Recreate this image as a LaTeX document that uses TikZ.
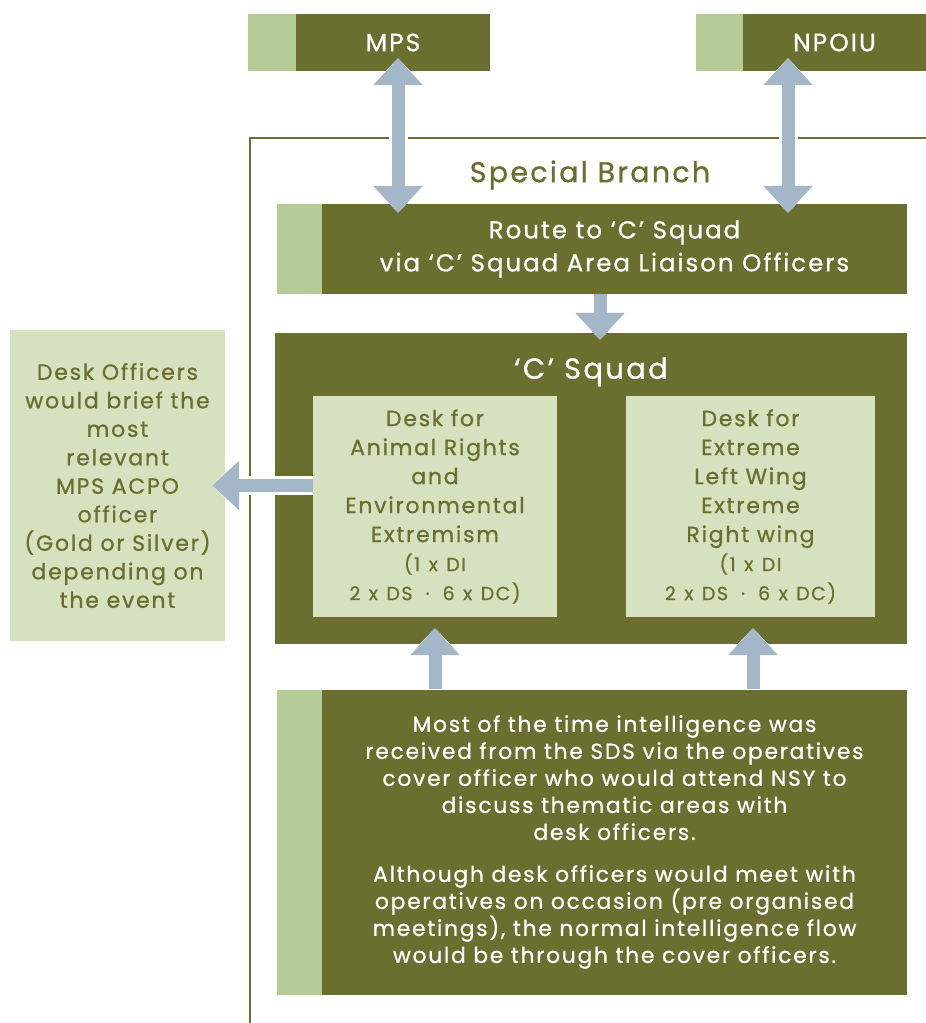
\documentclass[tikz,border=0pt]{standalone}
\usepackage{fontspec}
\setmainfont{Poppins}[LetterSpace=8,FakeBold=0.8]
\usetikzlibrary{arrows.meta,positioning,calc}

\begin{document}
\begin{tikzpicture}[x=1pt,y=1pt]
        % Colors
        \definecolor{olive}{RGB}{106,110,47}
        \definecolor{stripcolor}{RGB}{181,204,150}
        \definecolor{palecolor}{RGB}{213,225,191}
        \definecolor{flowcolor}{RGB}{163,183,201}
        % Styles
        \tikzstyle{darkbox}=[fill=olive,text=white,inner sep=0pt,align=center]
        \tikzstyle{tab}=[fill=stripcolor,inner sep=0pt]
        \tikzstyle{palebox}=[fill=palecolor,text=olive,inner sep=0pt,align=center]
        \tikzstyle{flow}=[draw=flowcolor,line width=13pt,>={Triangle[length=27pt,width=48pt]},
            preaction={draw=white,line width=19pt,>={Triangle[length=31pt,width=58pt]}}]
        \tikzstyle{desk text}=[font=\fontsize{22}{29}\selectfont]
        \newcommand{\smallline}[1]{{\fontsize{19}{27}\selectfont\spaceskip=8.5pt #1}}
        \useasboundingbox (0,0) rectangle (926,-1023);
        %The graphic
        \draw[olive,line width=1.2pt] (250,-1023) -- (250,-138) -- (926,-138);
        \node[olive,font=\fontsize{28.5}{32}\selectfont] (branch) at (590,-175) {Special Branch};
        % outside units
        \node[darkbox,minimum width=194pt,minimum height=57pt,font=\fontsize{25}{28}\selectfont] (mps) at (393,-42.5) {MPS};
        \node[tab,left=0pt of mps,minimum width=48pt,minimum height=57pt] (mpstab) {};
        \node[darkbox,minimum width=183pt,minimum height=57pt,font=\fontsize{25}{28}\selectfont] (npoiu) at (834.5,-42.5) {NPOIU};
        \node[tab,left=0pt of npoiu,minimum width=47pt,minimum height=57pt] (npoiutab) {};
        % route
        \node[darkbox,minimum width=585pt,minimum height=90pt,font=\fontsize{24.5}{33}\selectfont] (route) at (614.5,-249)
            {Route to ‘C’ Squad\\via ‘C’ Squad Area Liaison Officers};
        \node[tab,left=0pt of route,minimum width=45pt,minimum height=90pt] (routetab) {};
        % C squad and desks
        \node[darkbox,minimum width=632pt,minimum height=311pt] (csquad) at (591,-488.5) {};
        \node[text=white,font=\fontsize{29}{32}\selectfont] (ctitle) at ([yshift=-39pt]csquad.north) {‘C’ Squad};
        \node[palebox,desk text,minimum width=244pt,minimum height=221pt] (deskar) at (435,-506.5)
            {Desk for\\Animal Rights\\and\\Environmental\\Extremism\\\smallline{(1 x DI}\\\smallline{2 x DS\hspace{13pt}·\hspace{13pt}6 x DC)}};
        \node[palebox,desk text,minimum width=249pt,minimum height=221pt] (deskex) at (750.5,-506.5)
            {Desk for\\Extreme\\Left Wing\\Extreme\\Right wing\\\smallline{(1 x DI}\\\smallline{2 x DS\hspace{13pt}·\hspace{13pt}6 x DC)}};
        \node[palebox,font=\fontsize{22}{28.5}\selectfont,minimum width=215pt,minimum height=311pt] (brief) at (117.5,-485.5)
            {Desk Officers\\would brief the\\most\\relevant\\MPS ACPO\\officer\\(Gold or Silver)\\depending on\\the event};
        % SDS source
        \node[darkbox,minimum width=585pt,minimum height=305pt,font=\fontsize{21.8}{27}\selectfont] (sds) at (614.5,-842)
            {Most of the time intelligence was\\received from the SDS via the operatives\\cover officer who would attend NSY to\\discuss thematic areas with\\desk officers.\\[15pt]
             Although desk officers would meet with\\operatives on occasion (pre organised\\meetings), the normal intelligence flow\\would be through the cover officers.};
        \node[tab,left=0pt of sds,minimum width=45pt,minimum height=305pt] (sdstab) {};
        % Arrows
        \draw[flow,<->,shorten <=-13pt,shorten >=-9pt] ([xshift=5pt]mps.south) -- ([xshift=5pt]mps.south |- route.north);
        \draw[flow,<->,shorten <=-13pt,shorten >=-9pt] ([xshift=-46.5pt]npoiu.south) -- ([xshift=-46.5pt]npoiu.south |- route.north);
        \draw[flow,->,shorten >=-7pt] ([xshift=-14.5pt]route.south) -- ([xshift=-14.5pt]route.south |- csquad.north);
        \draw[flow,->,shorten >=-13pt] ([yshift=21pt]deskar.west) -- ([yshift=21pt]deskar.west -| brief.east);
        \draw[flow,->,shorten >=11pt] (deskar.south |- sds.north) -- (deskar.south);
        \draw[flow,->,shorten >=11pt] ([xshift=2.5pt]deskex.south |- sds.north) -- ([xshift=2.5pt]deskex.south);
\end{tikzpicture}
\end{document}
